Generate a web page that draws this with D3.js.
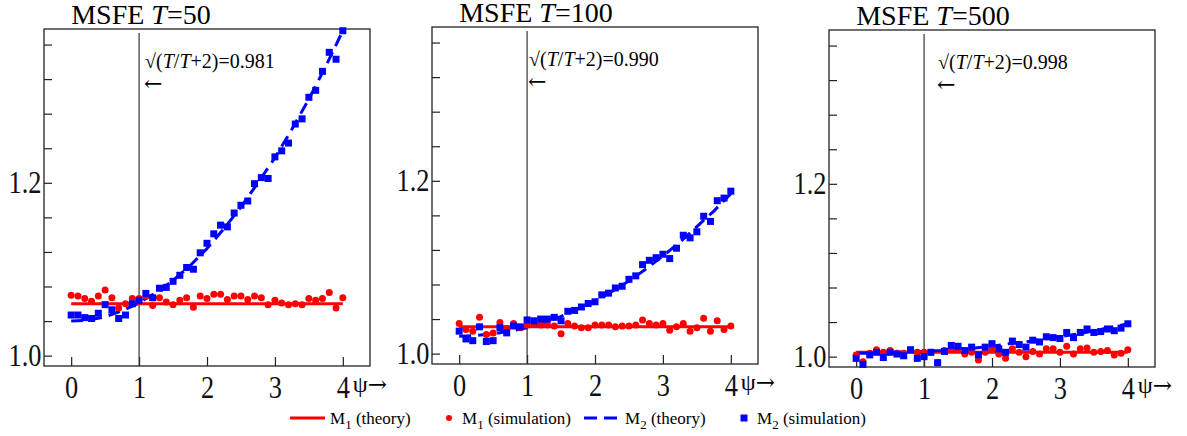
<!DOCTYPE html>
<html>
<head>
<meta charset="utf-8">
<script src="https://cdn.jsdelivr.net/npm/d3@7"></script>
<style>
  body { margin: 0; background: #fff; }
</style>
</head>
<body>
<div id="graf"></div>
<script>
// psi grid for the simulations and the theory curves
const psiSim = [0, 0.1, 0.2, 0.3, 0.4, 0.5, 0.6, 0.7, 0.8, 0.9, 1, 1.1, 1.2, 1.3, 1.4, 1.5, 1.6, 1.7, 1.8, 1.9, 2,
  2.1, 2.2, 2.3, 2.4, 2.5, 2.6, 2.7, 2.8, 2.9, 3, 3.1, 3.2, 3.3, 3.4, 3.5, 3.6, 3.7, 3.8, 3.9, 4]
const psiTheory = [0, 0.25, 0.5, 0.75, 1, 1.25, 1.5, 1.75, 2, 2.25, 2.5, 2.75, 3, 3.25, 3.5, 3.75, 4]

const sampleSizes = ["50", "100", "500"]
const ratioLabels = ["0.981", "0.990", "0.998"]
const yTicks = [1.0, 1.04, 1.08, 1.12, 1.16, 1.2, 1.24, 1.28, 1.32, 1.36]
const yLabels = [1.0, 1.2]
const xTicks = [0, 1, 2, 3, 4]

// M1 theory is flat
const m1Theory = [1.060, 1.031, 1.005]

const m1Sim50 = [1.070, 1.069, 1.066, 1.063, 1.069, 1.076, 1.067, 1.055, 1.060, 1.066, 1.066, 1.069, 1.058, 1.067,
  1.062, 1.059, 1.064, 1.067, 1.056, 1.069, 1.066, 1.071, 1.071, 1.065, 1.069, 1.069, 1.065, 1.069, 1.067, 1.059,
  1.064, 1.061, 1.059, 1.060, 1.059, 1.066, 1.064, 1.066, 1.073, 1.055, 1.067]
const m2Sim50 = [1.047, 1.047, 1.044, 1.043, 1.049, 1.059, 1.053, 1.043, 1.047, 1.060, 1.064, 1.072, 1.067, 1.078,
  1.079, 1.086, 1.093, 1.102, 1.100, 1.119, 1.130, 1.141, 1.151, 1.149, 1.165, 1.174, 1.179, 1.199, 1.206, 1.205,
  1.230, 1.237, 1.246, 1.268, 1.274, 1.299, 1.307, 1.329, 1.351, 1.343, 1.376]
const m2Theory50 = [1.040, 1.041, 1.045, 1.052, 1.061, 1.073, 1.087, 1.104, 1.124, 1.147, 1.172, 1.200, 1.229,
  1.262, 1.297, 1.335, 1.376]

const m1Sim100 = [1.035, 1.028, 1.026, 1.042, 1.022, 1.024, 1.036, 1.029, 1.035, 1.030, 1.033, 1.035, 1.033, 1.033,
  1.032, 1.023, 1.035, 1.032, 1.030, 1.030, 1.033, 1.033, 1.033, 1.031, 1.032, 1.032, 1.033, 1.039, 1.035, 1.033,
  1.035, 1.027, 1.031, 1.035, 1.026, 1.030, 1.041, 1.026, 1.038, 1.028, 1.032]
const m2Sim100 = [1.026, 1.017, 1.015, 1.031, 1.014, 1.015, 1.030, 1.024, 1.032, 1.031, 1.039, 1.038, 1.040, 1.040,
  1.042, 1.038, 1.049, 1.050, 1.054, 1.058, 1.060, 1.068, 1.070, 1.076, 1.078, 1.086, 1.090, 1.103, 1.108, 1.111,
  1.115, 1.110, 1.122, 1.137, 1.134, 1.141, 1.159, 1.153, 1.177, 1.180, 1.188]
const m2Theory100 = [1.020, 1.021, 1.023, 1.026, 1.030, 1.036, 1.043, 1.052, 1.061, 1.072, 1.084, 1.098, 1.113,
  1.129, 1.147, 1.165, 1.185]

const m1Sim500 = [1.002, 0.994, 1.004, 1.008, 1.005, 1.007, 1.004, 1.004, 1.007, 1.005, 1.005, 1.005, 0.993, 1.007,
  1.009, 1.009, 1.003, 1.005, 0.996, 1.005, 1.009, 1.003, 0.998, 1.009, 1.005, 1.000, 1.006, 1.003, 1.009, 1.009,
  1.005, 1.012, 1.003, 1.009, 1.010, 1.005, 1.006, 1.007, 1.002, 1.004, 1.008]
const m2Sim500 = [0.998, 0.991, 1.002, 1.005, 0.999, 1.005, 1.003, 1.001, 1.008, 0.998, 1.000, 1.005, 0.993, 1.006,
  1.013, 1.012, 1.007, 1.011, 1.002, 1.011, 1.015, 1.009, 1.005, 1.018, 1.014, 1.011, 1.019, 1.017, 1.023, 1.022,
  1.021, 1.028, 1.022, 1.028, 1.032, 1.028, 1.029, 1.032, 1.030, 1.033, 1.038]
const m2Theory500 = [1.004, 1.004, 1.005, 1.005, 1.006, 1.007, 1.009, 1.010, 1.012, 1.015, 1.017, 1.020, 1.023,
  1.026, 1.030, 1.034, 1.038]

const m1SimAll = [m1Sim50, m1Sim100, m1Sim500]
const m2SimAll = [m2Sim50, m2Sim100, m2Sim500]
const m2TheoryAll = [m2Theory50, m2Theory100, m2Theory500]

const RED = "#ff0000"
const BLUE = "#0000ff"
const SERIF = '"Liberation Serif", "Times New Roman", serif'
const ARROWS = '"DejaVu Serif", "Liberation Serif", serif'

const anchoTotal = 1187
const altoTotal = 436
const ancho = 326
const alto = 337
const panelPos = [{ left: 44, top: 29 }, { left: 432, top: 27 }, { left: 829, top: 30 }]
const annotDx = [6, 2, 14]

const svg = d3.select("#graf").append("svg")
  .attr("width", anchoTotal)
  .attr("height", altoTotal)
  .style("font-family", SERIF)

const x = d3.scaleLinear().domain([-0.4, 4.4]).range([0, ancho])
const y = d3.scaleLinear().domain([0.988, 1.378]).range([alto, 0])

const line = d3.line().x((d) => x(d[0])).y((d) => y(d[1]))

sampleSizes.forEach((T, i) => {
  const g = svg.append("g")
    .attr("transform", `translate(${panelPos[i].left}, ${panelPos[i].top})`)

  // title
  const title = g.append("text")
    .attr("x", x(0))
    .attr("y", -5)
    .attr("font-size", 28)
    .style("font-family", SERIF)
  title.append("tspan").text("MSFE ")
  title.append("tspan").attr("font-style", "italic").text("T")
  title.append("tspan").text("=" + T)

  // axes
  const yAxis = d3.axisLeft(y)
    .tickValues(yTicks)
    .tickSizeInner(-8)
    .tickSizeOuter(0)
    .tickPadding(4)
    .tickFormat((d) => (yLabels.includes(d) ? d3.format(".1f")(d) : ""))
  const xAxis = d3.axisBottom(x)
    .tickValues(xTicks)
    .tickSizeInner(-9)
    .tickSizeOuter(0)
    .tickPadding(10)
    .tickFormat(d3.format("d"))

  const gy = g.append("g").call(yAxis)
  const gx = g.append("g").attr("transform", `translate(0, ${alto})`).call(xAxis)
  ;[gx, gy].forEach((a) => {
    a.attr("font-family", null)
    a.select(".domain").remove()
    a.selectAll(".tick line").attr("stroke", "#222").attr("stroke-width", 1.2)
    a.selectAll(".tick text")
      .style("font-family", SERIF)
      .attr("font-size", 31)
      .attr("fill", "#111")
  })
  gy.selectAll(".tick text").attr("transform", "scale(0.85,1)").attr("x", -3)
  gx.selectAll(".tick text").attr("transform", "scale(0.85,1)")

  const psiLab = g.append("text")
    .attr("x", x(4) + 10)
    .attr("y", alto + 26)
    .attr("font-size", 24)
  psiLab.append("tspan").style("font-family", SERIF).text("ψ")
  psiLab.append("tspan").style("font-family", ARROWS).attr("font-size", 23).text("→")

  // frame
  g.append("rect")
    .attr("width", ancho)
    .attr("height", alto)
    .attr("fill", "none")
    .attr("stroke", "#222")
    .attr("stroke-width", 1.3)

  // reference line at psi = 1
  g.append("line")
    .attr("x1", x(1)).attr("x2", x(1))
    .attr("y1", 4).attr("y2", alto)
    .attr("stroke", "#333")
    .attr("stroke-width", 1.2)

  const ann = g.append("text")
    .attr("x", x(1) + annotDx[i])
    .attr("y", 39)
    .attr("font-size", 20)
    .style("font-family", SERIF)
  ann.append("tspan").text("√(")
  ann.append("tspan").attr("font-style", "italic").text("T")
  ann.append("tspan").text("/")
  ann.append("tspan").attr("font-style", "italic").text("T")
  ann.append("tspan").text("+2)=" + ratioLabels[i])
  g.append("text")
    .attr("x", x(1) + annotDx[i] - 1)
    .attr("y", 62)
    .attr("font-size", 22)
    .style("font-family", ARROWS)
    .text("←")

  // M1 theory (flat)
  g.append("path")
    .datum([[0, m1Theory[i]], [4, m1Theory[i]]])
    .attr("d", line)
    .attr("fill", "none")
    .attr("stroke", RED)
    .attr("stroke-width", 3)

  // M2 theory
  g.append("path")
    .datum(psiTheory.map((p, k) => [p, m2TheoryAll[i][k]]))
    .attr("d", line)
    .attr("fill", "none")
    .attr("stroke", BLUE)
    .attr("stroke-width", 3)
    .attr("stroke-dasharray", "12,7")

  // M1 simulation
  g.selectAll(".m1")
    .data(psiSim.map((p, k) => [p, m1SimAll[i][k]]))
    .join("circle")
    .attr("class", "m1")
    .attr("cx", (d) => x(d[0]))
    .attr("cy", (d) => y(d[1]))
    .attr("r", 3.5)
    .attr("fill", RED)

  // M2 simulation
  g.selectAll(".m2")
    .data(psiSim.map((p, k) => [p, m2SimAll[i][k]]))
    .join("rect")
    .attr("class", "m2")
    .attr("x", (d) => x(d[0]) - 3.5)
    .attr("y", (d) => y(d[1]) - 3.5)
    .attr("width", 7)
    .attr("height", 7)
    .attr("fill", BLUE)
})

// legend
const legendItems = [
  { kind: "line", x0: 290, x1: 325, tx: 330, sub: "1", label: "(theory)" },
  { kind: "dot", cx: 449, tx: 462, sub: "1", label: "(simulation)" },
  { kind: "dash", x0: 584, x1: 617, tx: 625, sub: "2", label: "(theory)" },
  { kind: "square", cx: 744, tx: 757, sub: "2", label: "(simulation)" },
]
const ly = 418
const legend = svg.append("g")
legendItems.forEach((it) => {
  if (it.kind === "line" || it.kind === "dash") {
    legend.append("line")
      .attr("x1", it.x0).attr("x2", it.x1)
      .attr("y1", ly).attr("y2", ly)
      .attr("stroke", it.kind === "line" ? RED : BLUE)
      .attr("stroke-width", 3)
      .attr("stroke-dasharray", it.kind === "dash" ? "13,7" : null)
  } else if (it.kind === "dot") {
    legend.append("circle").attr("cx", it.cx).attr("cy", ly).attr("r", 3).attr("fill", RED)
  } else {
    legend.append("rect").attr("x", it.cx - 3.5).attr("y", ly - 3.5).attr("width", 7).attr("height", 7).attr("fill", BLUE)
  }
  const t = legend.append("text").attr("x", it.tx).attr("y", ly + 6).attr("font-size", 17)
    .style("font-family", SERIF)
  t.append("tspan").text("M")
  t.append("tspan").attr("font-size", 13).attr("dy", 5).text(it.sub)
  t.append("tspan").attr("dy", -5).text(" " + it.label)
})
</script>
</body>
</html>
